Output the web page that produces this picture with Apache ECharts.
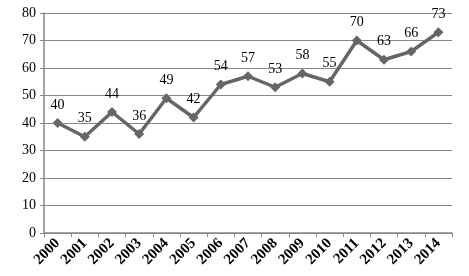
<!DOCTYPE html>
<html>
<head>
<meta charset="utf-8">
<script src="https://cdn.jsdelivr.net/npm/echarts@6/dist/echarts.min.js"></script>
<style>
  html, body { margin: 0; padding: 0; background: #fff; }
  #chart { width: 469px; height: 276px; }
</style>
</head>
<body>
<div id="chart"></div>
<script>
var years = ['2000', '2001', '2002', '2003', '2004', '2005', '2006', '2007',
  '2008', '2009', '2010', '2011', '2012', '2013', '2014'];
var values = [40, 35, 44, 36, 49, 42, 54, 57, 53, 58, 55, 70, 63, 66, 73];

var serif = '"Liberation Serif", "DejaVu Serif", serif';
var chart = echarts.init(document.getElementById('chart'));
chart.setOption({
  animation: false,
  grid: { left: 44, right: 17, top: 13, bottom: 43 },
  xAxis: {
    type: 'category',
    data: years,
    boundaryGap: true,
    axisLine: { lineStyle: { color: '#888', width: 1.5 } },
    axisTick: { show: true, length: 4, lineStyle: { color: '#888' } },
    axisLabel: {
      rotate: 45, interval: 0, margin: 8,
      fontFamily: serif, fontSize: 15, fontWeight: 'bold', color: '#000'
    }
  },
  yAxis: {
    type: 'value',
    min: 0, max: 80, interval: 10,
    axisLine: { show: true, lineStyle: { color: '#888', width: 1.5 } },
    axisTick: { show: true, length: 4, lineStyle: { color: '#888' } },
    splitLine: { lineStyle: { color: '#888', width: 1 } },
    axisLabel: { fontFamily: serif, fontSize: 14, color: '#000', margin: 8 }
  },
  series: [{
    type: 'line',
    data: values,
    symbol: 'diamond',
    symbolSize: 10,
    lineStyle: { color: '#666', width: 3.5 },
    itemStyle: { color: '#666' },
    label: {
      show: true, position: 'top', distance: 6,
      fontFamily: serif, fontSize: 14, color: '#000'
    }
  }]
});
</script>
</body>
</html>
